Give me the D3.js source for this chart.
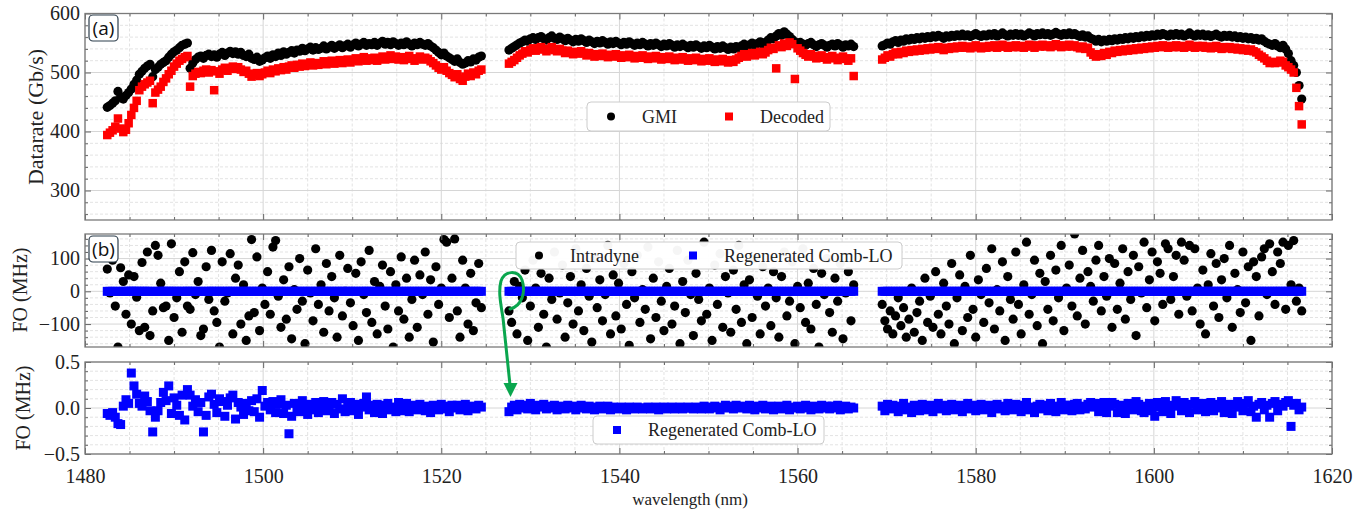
<!DOCTYPE html>
<html>
<head>
<meta charset="utf-8">
<script src="https://d3js.org/d3.v7.min.js"></script>
<style>
  body { margin: 0; background: #fff; }
  svg text { font-family: "Liberation Serif", "Times New Roman", serif; }
</style>
</head>
<body>
<svg id="chart" width="1362" height="512"></svg>
<script>
// channel grid: three bands, one channel every 0.3 nm
const bandStart = [1482.5, 1527.6, 1569.5];
const channelStep = 0.3;

// (a) datarate, Gb/s
const gmi = [
  [441,444,448,452,468,458,455,461,466,472,
   480,487,497,502,507,511,514,493,505,509,
   514,517,520,526,531,535,538,542,546,548,
   550,507,516,522,526,528,524,529,531,527,
   530,526,531,534,529,533,536,532,535,531,
   534,529,527,531,524,522,526,519,521,525,
   528,524,530,527,533,529,535,531,534,537,
   533,538,536,541,537,540,543,538,542,539,
   541,545,540,543,546,541,544,547,542,545,
   548,543,547,550,545,548,551,546,549,547,
   551,546,550,553,548,551,547,552,549,546,
   550,547,552,548,545,550,547,551,548,546,
   549,545,542,538,534,530,533,528,525,522,
   519,523,517,514,516,520,518,523,521,526,
   528],
  [538,541,544,547,550,552,555,553,557,559,
   556,559,561,557,555,559,562,558,556,560,
   557,554,558,555,552,556,553,557,554,551,
   555,552,549,553,550,554,551,548,552,549,
   553,550,547,551,548,552,549,546,550,547,
   551,548,545,549,546,550,547,544,548,545,
   549,546,543,547,544,548,545,542,546,543,
   547,544,541,545,542,546,543,540,544,541,
   545,542,539,543,540,544,541,545,548,544,
   547,550,546,549,552,548,551,555,559,557,
   562,566,563,569,565,561,556,552,549,551,
   548,546,549,551,547,544,547,549,546,543,
   546,548,545,549,546,543,547,545,548,544],
  [545,547,550,548,552,554,551,555,553,557,
   555,558,556,559,557,560,558,561,559,562,
   560,563,561,558,562,560,563,561,564,562,
   565,562,564,561,563,566,563,561,564,562,
   565,563,566,562,564,567,564,562,565,563,
   566,563,565,562,564,567,565,562,566,564,
   567,564,566,563,565,568,565,563,566,564,
   567,564,566,563,561,564,560,562,558,556,
   553,556,552,555,553,556,554,557,555,558,
   556,559,557,560,558,561,559,562,560,563,
   561,564,562,565,563,566,564,562,565,563,
   566,563,565,562,564,567,564,562,565,563,
   565,562,564,561,563,565,562,560,563,561,
   563,560,562,559,561,558,560,557,559,556,
   558,555,557,553,550,548,546,549,545,542,
   546,540,532,520,512,500,478,455]
];

const decoded = [
  [394,398,402,408,422,405,399,403,414,428,
   440,452,470,476,480,483,486,448,466,471,
   476,484,490,497,503,510,515,520,523,526,
   528,476,494,498,501,499,503,505,500,504,
   470,502,498,505,508,503,507,510,506,509,
   505,501,503,498,493,496,499,494,497,500,
   503,499,505,502,507,504,509,505,510,512,
   508,513,510,515,511,514,517,512,516,513,
   515,519,514,517,520,515,518,521,516,519,
   522,517,521,524,519,522,526,520,524,521,
   525,520,524,527,522,526,529,523,527,522,
   526,521,525,528,523,520,524,527,522,525,
   523,519,516,512,508,505,509,503,499,496,
   492,497,489,486,493,498,494,500,497,503,
   505],
  [515,518,521,525,529,532,536,534,538,541,
   537,540,543,539,536,540,543,538,536,540,
   537,533,537,534,531,535,532,536,533,529,
   533,530,527,531,528,532,529,526,530,527,
   531,528,525,529,526,530,527,524,528,525,
   529,526,523,527,524,528,525,522,526,523,
   527,524,521,525,522,526,523,520,524,521,
   525,522,519,523,520,524,521,518,522,519,
   523,520,517,521,518,522,525,528,531,527,
   530,533,529,532,535,531,534,538,542,540,
   507,546,543,549,545,551,548,489,541,537,
   533,530,527,531,528,524,527,529,525,522,
   526,528,524,521,525,527,523,520,524,494],
  [522,525,529,527,531,534,531,535,533,537,
   535,538,536,539,537,540,538,541,539,542,
   540,543,541,538,542,540,543,541,544,542,
   545,542,544,541,543,546,543,541,544,542,
   545,543,546,542,544,547,544,542,545,543,
   546,543,545,542,544,547,545,542,546,544,
   547,544,546,543,545,548,545,543,546,544,
   547,544,546,543,541,544,540,542,534,530,
   527,531,528,533,530,535,533,537,535,538,
   536,539,537,540,538,541,539,542,540,543,
   541,544,542,545,543,546,544,542,545,543,
   546,543,545,542,544,547,544,542,545,543,
   545,542,544,541,543,545,542,540,543,541,
   543,540,542,539,541,538,540,537,539,536,
   534,530,527,524,520,516,518,516,517,520,
   518,512,509,505,500,474,443,412]
];

// (b) frequency offset with intradyne, MHz
const intradyne = [
  [68,-5,95,-45,-170,72,30,-70,50,-100,
   45,-18,-120,88,-110,120,-135,-60,140,110,
   25,-50,-45,-150,145,-80,-20,60,-125,90,
   -45,-55,118,-10,30,-135,-115,75,-25,125,
   -60,-95,-170,90,-30,-5,115,-130,40,80,
   -100,20,-150,-75,158,-65,105,-120,10,-40,
   60,-70,135,155,-15,-110,35,-85,75,-145,
   5,-55,100,-30,-160,65,-5,-90,130,-40,
   20,-125,85,-60,45,-20,-140,110,-75,0,
   70,-35,-105,55,-150,90,-10,-65,125,-95,
   30,-130,15,80,-45,-115,60,-170,20,-60,
   105,-85,40,-140,-25,95,-110,50,-10,120,
   -70,35,-155,75,-40,10,158,150,-80,40,
   160,-60,-140,95,10,-100,55,-120,-35,85,
   -50],
  [-60,-95,30,-130,15,-20,65,-150,-45,95,
   10,-110,55,-70,-170,40,-25,120,-85,-5,
   80,-140,-35,45,-100,130,-60,20,-120,70,
   -15,-155,100,-50,35,-90,-10,140,-130,50,
   -75,25,-115,85,-40,-165,60,-20,110,-95,
   5,-55,135,-145,40,-80,90,-30,-120,15,
   70,-100,-45,125,-160,30,-65,95,-10,-135,
   55,-25,-90,150,-70,10,-150,80,-40,115,
   -110,45,-5,-125,65,-55,140,-95,20,-160,
   35,-80,100,-15,-130,75,-45,10,-105,60,
   -20,-140,45,120,-75,-30,90,-160,15,-50,
   130,-95,25,-115,70,-40,-170,55,-10,100,
   -65,-125,40,-30,85,-145,-5,60,-90,20],
  [-40,-90,-115,-60,-130,-75,-20,-105,-50,-140,
   -85,10,-125,-65,-30,-150,40,-95,-15,-110,
   60,-70,-130,25,-45,-100,85,-160,-20,50,
   -120,15,-80,110,-55,-140,35,-10,-95,70,
   -35,130,-115,5,-60,90,-150,45,-25,-85,
   120,-40,-130,20,150,-70,-10,95,-105,55,
   -160,30,-55,110,-90,65,-20,140,-120,10,
   80,-45,175,-75,40,125,-100,60,15,-30,
   95,140,-60,45,-15,100,-110,85,-55,25,
   130,-85,60,-25,110,-135,75,-5,150,-50,
   35,120,-90,90,55,-40,145,130,-25,45,
   110,-70,150,95,-15,140,-60,130,10,-100,
   65,-130,20,115,-45,85,-80,35,100,-20,
   140,-110,55,5,-65,120,-35,75,-150,90,
   45,-75,105,130,-10,145,60,-40,120,85,
   150,-55,140,20,155,-30,10,-60]
];

// (b)+(c) frequency offset with regenerated comb LO, MHz
const combLO = [
  [-0.06,-0.08,-0.05,-0.10,-0.17,-0.18,0.02,0.09,0.05,0.38,
   0.24,0.15,0.05,0.02,0.13,0.07,-0.03,-0.26,-0.10,-0.03,
   0.06,0.17,0.08,0.24,-0.06,0.11,0.03,-0.08,0.14,-0.13,
   0.20,0.14,0.02,0.09,-0.04,0.06,-0.26,-0.08,0.12,0.15,
   0.04,-0.05,0.10,0.07,-0.09,0.03,0.11,0.14,-0.12,0.06,
   0.01,-0.07,0.05,-0.03,0.08,-0.04,0.10,-0.10,0.19,0.02,
   0.06,-0.02,0.07,-0.05,0.04,0.09,-0.06,0.03,-0.28,-0.09,
   0.05,0.00,-0.04,0.08,0.02,-0.07,0.04,-0.02,0.06,-0.05,
   0.03,0.07,-0.03,0.01,0.06,-0.06,0.04,-0.01,0.10,-0.04,
   0.02,0.06,-0.03,0.04,-0.07,0.01,0.05,0.12,-0.02,0.03,
   -0.05,0.04,0.00,-0.06,0.03,0.05,-0.02,0.01,-0.04,0.06,
   -0.03,0.02,0.05,-0.04,0.01,0.03,-0.02,0.04,0.00,-0.03,
   0.02,-0.05,0.03,0.01,-0.02,0.04,-0.01,0.02,-0.04,0.03,
   0.00,0.03,-0.02,0.01,0.04,-0.03,0.02,0.00,-0.01,0.03,
   0.01],
  [-0.04,0.01,0.03,-0.02,0.04,0.00,0.03,-0.01,0.05,0.02,
   -0.02,0.03,0.01,0.04,-0.01,0.02,0.00,0.03,-0.02,0.01,
   0.02,-0.01,0.03,0.00,0.02,-0.02,0.01,0.03,0.00,-0.01,
   0.02,0.00,-0.02,0.01,0.02,-0.01,0.00,0.02,-0.02,0.01,
   0.00,-0.01,0.01,0.00,-0.02,0.01,0.00,-0.01,0.01,0.00,
   -0.01,0.00,0.01,-0.01,0.00,0.01,-0.02,0.00,0.01,-0.01,
   0.00,0.01,-0.01,0.00,0.01,-0.01,0.00,0.01,0.00,-0.01,
   0.01,0.00,-0.01,0.02,0.00,-0.01,0.01,0.02,0.00,-0.02,
   0.01,0.03,0.00,0.02,-0.01,0.03,0.01,0.00,0.02,-0.01,
   0.03,0.01,-0.02,0.02,0.00,0.03,-0.01,0.01,0.02,-0.02,
   0.00,0.02,-0.01,0.01,0.03,-0.02,0.00,0.01,0.02,-0.01,
   0.01,0.03,0.00,-0.02,0.02,0.01,-0.01,0.03,0.00,0.02,
   -0.01,0.02,0.00,0.03,-0.02,0.01,0.02,-0.01,0.01,0.00],
  [0.02,-0.03,0.04,-0.01,0.03,0.00,-0.04,0.02,0.05,-0.02,
   0.01,-0.05,0.03,0.00,-0.03,0.04,0.01,-0.02,0.03,-0.04,
   0.02,0.05,-0.01,0.03,-0.03,0.01,0.04,-0.02,0.00,0.03,
   -0.04,0.02,0.05,-0.01,0.03,-0.03,0.01,0.04,-0.02,0.00,
   0.03,-0.05,0.02,0.04,-0.01,0.02,-0.03,0.05,0.01,-0.02,
   0.04,0.00,-0.04,0.03,0.06,-0.02,0.01,-0.05,0.02,0.04,
   -0.01,0.03,-0.03,0.05,0.02,-0.04,0.01,0.06,-0.02,0.03,
   0.03,-0.03,0.04,0.05,-0.02,0.02,-0.01,0.04,0.06,0.01,
   0.05,-0.04,0.03,0.06,-0.05,0.02,0.06,0.04,-0.05,0.03,
   0.01,-0.06,0.05,0.03,-0.02,0.07,0.04,-0.03,-0.05,0.02,
   0.05,-0.03,-0.09,0.06,0.01,-0.04,0.07,0.02,-0.06,0.03,
   0.08,0.02,-0.03,0.06,0.01,-0.05,0.04,0.07,-0.02,0.03,
   0.05,-0.04,0.02,0.06,-0.03,0.04,0.00,0.07,-0.05,0.02,
   0.04,-0.06,0.03,0.07,0.01,-0.03,0.05,0.08,-0.04,0.02,
   -0.10,0.04,0.06,-0.02,0.03,-0.10,0.05,0.07,-0.03,0.04,
   0.02,0.06,0.08,-0.20,0.03,0.05,-0.02,0.01]
];

// flatten into channel rows
let rows = [];
bandStart.forEach((start, b) => {
  gmi[b].forEach((v, i) => {
    rows.push({
      wl: start + i * channelStep,
      gmi: v,
      dec: decoded[b][i],
      intra: intradyne[b][i],
      comb: combLO[b][i]
    });
  });
});

let chart = d3.select("#chart");
let xLeft = 85, xRight = 1332;
let serif = "'Liberation Serif', 'Times New Roman', serif";

let xScale = d3.scaleLinear().domain([1480, 1620]).range([xLeft, xRight]);
let xMajor = d3.range(1480, 1621, 20);
let xMinor = d3.range(1480, 1621, 5).filter(d => d % 20 != 0);

function styleAxis(g) {
  g.attr("font-family", serif);
  g.select(".domain").remove();
  g.selectAll(".tick line").attr("stroke", "#666").attr("stroke-width", 1);
  g.selectAll(".tick text").attr("font-size", 20).attr("fill", "#222");
}

function drawPanel(id, top, bottom, domain, major, minor, fmt, xLabels) {
  let y = d3.scaleLinear().domain(domain).range([bottom, top]);
  let g = chart.append("g");

  g.append("clipPath").attr("id", "clip-" + id)
    .append("rect")
      .attr("x", xLeft).attr("y", top)
      .attr("width", xRight - xLeft).attr("height", bottom - top);

  // minor grid, dashed
  g.selectAll(".vmin").data(xMinor).enter().append("line")
    .attr("x1", d => xScale(d)).attr("x2", d => xScale(d))
    .attr("y1", top).attr("y2", bottom)
    .attr("stroke", "#e3e3e3").attr("stroke-dasharray", "3,2");
  g.selectAll(".hmin").data(minor).enter().append("line")
    .attr("x1", xLeft).attr("x2", xRight)
    .attr("y1", d => y(d)).attr("y2", d => y(d))
    .attr("stroke", "#e3e3e3").attr("stroke-dasharray", "3,2");
  // major grid
  g.selectAll(".vmaj").data(xMajor).enter().append("line")
    .attr("x1", d => xScale(d)).attr("x2", d => xScale(d))
    .attr("y1", top).attr("y2", bottom)
    .attr("stroke", "#d6d6d6");
  g.selectAll(".hmaj").data(major).enter().append("line")
    .attr("x1", xLeft).attr("x2", xRight)
    .attr("y1", d => y(d)).attr("y2", d => y(d))
    .attr("stroke", "#d6d6d6");

  let plot = g.append("g").attr("clip-path", "url(#clip-" + id + ")");

  // ticks pointing inwards on all four sides
  g.append("g").attr("transform", "translate(" + xLeft + ",0)")
    .call(d3.axisLeft(y).tickValues(major).tickSize(-6).tickPadding(5).tickFormat(fmt))
    .call(styleAxis);
  g.append("g").attr("transform", "translate(" + xLeft + ",0)")
    .call(d3.axisLeft(y).tickValues(minor).tickSize(-3).tickFormat(""))
    .call(styleAxis);
  g.append("g").attr("transform", "translate(" + xRight + ",0)")
    .call(d3.axisRight(y).tickValues(major).tickSize(-6).tickFormat(""))
    .call(styleAxis);
  g.append("g").attr("transform", "translate(" + xRight + ",0)")
    .call(d3.axisRight(y).tickValues(minor).tickSize(-3).tickFormat(""))
    .call(styleAxis);
  g.append("g").attr("transform", "translate(0," + top + ")")
    .call(d3.axisTop(xScale).tickValues(xMajor).tickSize(-6).tickFormat(""))
    .call(styleAxis);
  g.append("g").attr("transform", "translate(0," + top + ")")
    .call(d3.axisTop(xScale).tickValues(xMinor).tickSize(-3).tickFormat(""))
    .call(styleAxis);
  g.append("g").attr("transform", "translate(0," + bottom + ")")
    .call(d3.axisBottom(xScale).tickValues(xMajor).tickSize(-6).tickPadding(15)
      .tickFormat(xLabels ? d3.format("d") : ""))
    .call(styleAxis);
  g.append("g").attr("transform", "translate(0," + bottom + ")")
    .call(d3.axisBottom(xScale).tickValues(xMinor).tickSize(-3).tickFormat(""))
    .call(styleAxis);

  g.append("rect")
    .attr("x", xLeft).attr("y", top)
    .attr("width", xRight - xLeft).attr("height", bottom - top)
    .attr("fill", "none").attr("stroke", "#7a7a7a").attr("stroke-width", 1.3);

  return { y: y, plot: plot, g: g };
}

function circles(p, key, color, r) {
  p.plot.selectAll(null).data(rows).enter().append("circle")
    .attr("cx", d => xScale(d.wl))
    .attr("cy", d => p.y(d[key]))
    .attr("r", r)
    .attr("fill", color);
}

function squares(p, key, color, s) {
  p.plot.selectAll(null).data(rows).enter().append("rect")
    .attr("x", d => xScale(d.wl) - s / 2)
    .attr("y", d => p.y(d[key]) - s / 2)
    .attr("width", s).attr("height", s)
    .attr("fill", color);
}

function legend(x, y, w, h, items) {
  let lg = chart.append("g");
  lg.append("rect")
    .attr("x", x).attr("y", y).attr("width", w).attr("height", h)
    .attr("rx", 4).attr("fill", "#fff").attr("fill-opacity", 0.96)
    .attr("stroke", "#cccccc");
  items.forEach(it => {
    if (it.shape == "circle") {
      lg.append("circle").attr("cx", it.mx).attr("cy", y + h / 2).attr("r", 4).attr("fill", it.color);
    } else {
      lg.append("rect").attr("x", it.mx - 4).attr("y", y + h / 2 - 4)
        .attr("width", 8).attr("height", 8).attr("fill", it.color);
    }
    lg.append("text").text(it.label)
      .attr("x", it.tx).attr("y", y + h / 2 + 6)
      .attr("font-size", 18).attr("fill", "#222");
  });
}

function panelTag(label, x, y) {
  chart.append("rect")
    .attr("x", x).attr("y", y).attr("width", 29).attr("height", 26)
    .attr("rx", 4).attr("fill", "#fff")
    .attr("stroke", "#2d3e4c").attr("stroke-width", 1.2);
  chart.append("text").text(label)
    .attr("x", x + 14.5).attr("y", y + 19.5)
    .style("text-anchor", "middle")
    .style("font-family", "'Open Sans', 'Noto Sans', sans-serif")
    .attr("font-size", 19).attr("fill", "#111");
}

function yTitle(text, x, y, size) {
  chart.append("text").text(text)
    .attr("transform", "translate(" + x + "," + y + ") rotate(-90)")
    .attr("dy", "0.35em")
    .style("text-anchor", "middle")
    .attr("font-size", size).attr("fill", "#222");
}

// ---- panel (a)
let pa = drawPanel("a", 13.5, 220, [250, 600], [300, 400, 500, 600],
  d3.range(260, 600, 20).filter(v => v % 100 != 0), d3.format("d"), false);
circles(pa, "gmi", "#000", 4.6);
squares(pa, "dec", "#ff0000", 8.5);

// ---- panel (b)
let pb = drawPanel("b", 234, 347, [-170, 175], [-100, 0, 100],
  d3.range(-160, 161, 20).filter(v => v % 100 != 0), d3.format("d"), false);
circles(pb, "intra", "#000", 4.6);
squares(pb, "comb", "#0000ff", 9);

// ---- panel (c)
let pc = drawPanel("c", 362, 454, [-0.5, 0.5], [-0.5, 0, 0.5],
  [-4, -3, -2, -1, 1, 2, 3, 4].map(k => k / 10), d3.format(".1f"), true);
squares(pc, "comb", "#0000ff", 9);

legend(587, 102, 243, 29, [
  { shape: "circle", color: "#000", mx: 611, tx: 642, label: "GMI" },
  { shape: "square", color: "#ff0000", mx: 729, tx: 760, label: "Decoded" }
]);
legend(516, 242, 386, 27, [
  { shape: "circle", color: "#000", mx: 539, tx: 570, label: "Intradyne" },
  { shape: "square", color: "#0000ff", mx: 693, tx: 724, label: "Regenerated Comb-LO" }
]);
legend(593, 416, 231, 28, [
  { shape: "square", color: "#0000ff", mx: 617, tx: 648, label: "Regenerated Comb-LO" }
]);

panelTag("(a)", 89, 15);
panelTag("(b)", 89, 236);

yTitle("Datarate (Gb/s)", 35, 117, 22);
yTitle("FO (MHz)", 20, 290, 20);
yTitle("FO (MHz)", 23, 408, 20);

chart.append("text").text("wavelength (nm)")
  .attr("x", 690).attr("y", 505)
  .style("text-anchor", "middle")
  .attr("font-size", 17).attr("fill", "#222");

// green arrow from the loop in (b) down to (c)
let green = "#0aa64e";
chart.append("path")
  .attr("d", "M510,309 C522,306 526,292 522,280 C518,270 505,270 501,281 C498,292 501,305 503,318 L510,385")
  .attr("fill", "none").attr("stroke", green).attr("stroke-width", 3)
  .attr("stroke-linecap", "round");
chart.append("path")
  .attr("d", "M503.5,383 L517.5,383 L510.5,397 Z")
  .attr("fill", green);
</script>
</body>
</html>
